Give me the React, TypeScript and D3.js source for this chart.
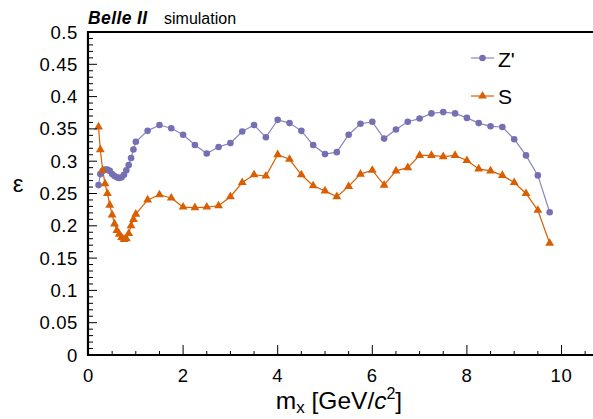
import React from "react";
import * as d3 from "d3";

const masses = [
  0.212, 0.25, 0.3, 0.35, 0.4, 0.45, 0.5, 0.55, 0.6, 0.65, 0.7, 0.75, 0.8, 0.85, 0.9, 0.95,
  1.0, 1.25, 1.5, 1.75, 2.0, 2.25, 2.5, 2.75, 3.0, 3.25, 3.5, 3.75, 4.0, 4.25, 4.5, 4.75,
  5.0, 5.25, 5.5, 5.75, 6.0, 6.25, 6.5, 6.75, 7.0, 7.25, 7.5, 7.75, 8.0, 8.25, 8.5, 8.75,
  9.0, 9.25, 9.5, 9.75,
];
const effZprime = [
  0.263, 0.28, 0.285, 0.287, 0.287, 0.285, 0.28, 0.277, 0.275, 0.274, 0.275, 0.279, 0.286, 0.294, 0.305, 0.318,
  0.33, 0.347, 0.356, 0.351, 0.341, 0.325, 0.312, 0.322, 0.328, 0.346, 0.356, 0.337, 0.364, 0.359, 0.347, 0.325,
  0.311, 0.314, 0.341, 0.358, 0.361, 0.335, 0.349, 0.361, 0.366, 0.374, 0.376, 0.374, 0.367, 0.359, 0.354, 0.353,
  0.334, 0.309, 0.278, 0.221,
];
const effS = [
  0.353, 0.318, 0.286, 0.265, 0.25, 0.232, 0.217, 0.203, 0.193, 0.187, 0.182, 0.179, 0.18, 0.188, 0.2, 0.21,
  0.218, 0.24, 0.248, 0.243, 0.229, 0.228, 0.229, 0.231, 0.245, 0.267, 0.279, 0.277, 0.31, 0.303, 0.279, 0.262,
  0.254, 0.245, 0.261, 0.28, 0.286, 0.263, 0.285, 0.29, 0.309, 0.309, 0.307, 0.309, 0.301, 0.288, 0.285, 0.278,
  0.267, 0.25, 0.224, 0.173,
];
const xTicks = [0, 2, 4, 6, 8, 10];
const yTicks = [0, 0.05, 0.1, 0.15, 0.2, 0.25, 0.3, 0.35, 0.4, 0.45, 0.5];
const yTickLabels = ["0", "0.05", "0.1", "0.15", "0.2", "0.25", "0.3", "0.35", "0.4", "0.45", "0.5"];

const W = 593;
const H = 419;
const FONT = "'Liberation Sans', Arial, Helvetica, sans-serif";
const PURPLE = "#7570b3";
const ORANGE = "#d95f02";

export default function App() {
  const x = d3.scaleLinear().domain([0, 10]).range([88.5, 561.5]);
  const y = d3.scaleLinear().domain([0, 0.5]).range([355, 32]);
  const x0 = 88;
  const yBot = 355;
  const yTop = 32;

  const zData = masses.map((m, i) => [m, effZprime[i]] as [number, number]);
  const sData = masses.map((m, i) => [m, effS[i]] as [number, number]);
  const line = d3
    .line<[number, number]>()
    .x((d) => x(d[0]))
    .y((d) => y(d[1]));
  const tri = d3.symbol().type(d3.symbolTriangle).size(34)();

  const yMinor = d3.range(0, 51).map((k) => k / 100);
  const xMinor = d3.range(0, 23).map((k) => k / 2);

  return (
    <svg
      width={W}
      height={H}
      style={{ position: "absolute", left: 0, top: 0, background: "#fff" }}
      fontFamily={FONT}
    >
      <rect x={0} y={0} width={W} height={H} fill="#fff" />
      {/* series lines */}
      <path d={line(zData) || ""} fill="none" stroke={PURPLE} strokeOpacity={0.85} strokeWidth={1.2} />
      <path d={line(sData) || ""} fill="none" stroke={ORANGE} strokeWidth={1.2} />
      {zData.map((d, i) => (
        <circle key={"z" + i} cx={x(d[0])} cy={y(d[1])} r={3.3} fill={PURPLE} />
      ))}
      {sData.map((d, i) => (
        <path key={"s" + i} d={tri} transform={`translate(${x(d[0])},${y(d[1])})`} fill={ORANGE} />
      ))}

      {/* frame */}
      <line x1={x0} x2={W} y1={yTop} y2={yTop} stroke="#000" strokeWidth={2} />
      <line x1={x0} x2={W} y1={yBot} y2={yBot} stroke="#000" strokeWidth={2} />
      <line x1={x0} x2={x0} y1={yTop - 1} y2={yBot + 1} stroke="#000" strokeWidth={2.2} />

      {/* y ticks */}
      {yMinor.map((v, i) => {
        const major = i % 5 === 0;
        return (
          <line
            key={"yt" + i}
            x1={x0}
            x2={x0 + (major ? 9 : 5)}
            y1={y(v)}
            y2={y(v)}
            stroke="#000"
            strokeWidth={1}
          />
        );
      })}
      {yTicks.map((v, i) => (
        <text
          key={"yl" + i}
          x={78}
          y={y(v)}
          textAnchor="end"
          dominantBaseline="central"
          fontSize={18.5}
          letterSpacing={0.6}
        >
          {yTickLabels[i]}
        </text>
      ))}

      {/* x ticks */}
      {xMinor
        .filter((v) => x(v) <= W)
        .map((v, i) => {
          const major = v % 2 === 0;
          return (
            <line
              key={"xt" + i}
              x1={x(v)}
              x2={x(v)}
              y1={yBot}
              y2={yBot - (major ? 10 : 4)}
              stroke="#000"
              strokeWidth={1}
            />
          );
        })}
      {xTicks.map((v) => (
        <text key={"xl" + v} x={x(v)} y={382} textAnchor="middle" fontSize={18.5} letterSpacing={0.6}>
          {v}
        </text>
      ))}

      {/* axis titles */}
      <text x={339} y={409} textAnchor="middle" fontSize={24.5}>
        <tspan>m</tspan>
        <tspan fontSize={17} dy={4}>x</tspan>
        <tspan dy={-4}> [GeV/</tspan>
        <tspan fontStyle="italic">c</tspan>
        <tspan fontSize={16} dy={-10}>2</tspan>
        <tspan dy={10}>]</tspan>
      </text>
      <text x={18} y={192} textAnchor="middle" fontSize={24}>
        ε
      </text>

      {/* title */}
      <text x={88} y={24} fontSize={17.5} fontWeight="bold" fontStyle="italic" letterSpacing={0.4}>
        Belle II
      </text>
      <text x={164} y={24} fontSize={16}>
        simulation
      </text>

      {/* legend */}
      <line x1={471} x2={494} y1={58} y2={58} stroke={PURPLE} strokeOpacity={0.85} strokeWidth={1.2} />
      <circle cx={482.5} cy={58} r={3.3} fill={PURPLE} />
      <text x={498} y={66.5} fontSize={21}>
        Z'
      </text>
      <line x1={471} x2={494} y1={96} y2={96} stroke={ORANGE} strokeWidth={1.2} />
      <path d={tri} transform="translate(482.5,96)" fill={ORANGE} />
      <text x={498} y={103.5} fontSize={21}>
        S
      </text>
    </svg>
  );
}
